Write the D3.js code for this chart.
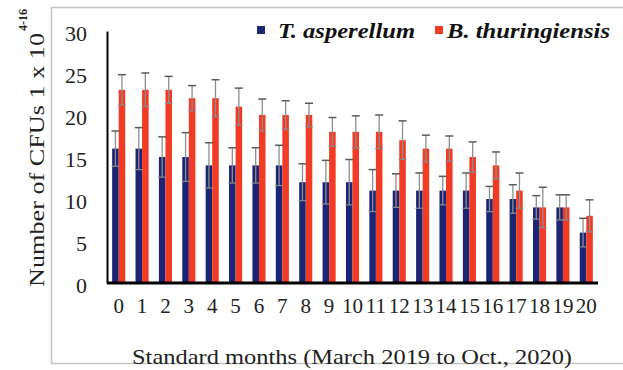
<!DOCTYPE html>
<html>
<head>
<meta charset="utf-8">
<script src="https://cdn.jsdelivr.net/npm/d3@7"></script>
<style>
  body { margin: 0; background: #fff; }
  svg text { font-family: "Liberation Serif", "DejaVu Serif", serif !important; }
</style>
</head>
<body>
<div id="chart"></div>
<script>
// standard months 0..20
let months = d3.range(0, 21).map(String);
let seriesNames = ["T. asperellum", "B. thuringiensis"];
let asperellum = [16, 16, 15, 15, 14, 14, 14, 14, 12, 12, 12, 11, 11, 11, 11, 11, 10, 10, 9, 9, 6];
let asperellumErr = [2.1, 2.5, 2.4, 2.9, 2.7, 2.1, 2.1, 2.4, 2.2, 2.6, 2.7, 2.5, 2.0, 2.1, 1.7, 2.1, 1.5, 1.7, 1.4, 1.5, 1.7];
let thuringiensis = [23, 23, 23, 22, 22, 21, 20, 20, 20, 18, 18, 18, 17, 16, 16, 15, 14, 11, 9, 9, 8];
let thuringiensisErr = [1.8, 2.0, 1.6, 1.5, 2.2, 2.2, 1.9, 1.7, 1.4, 1.7, 1.9, 2.0, 2.3, 1.6, 1.5, 1.8, 1.6, 2.1, 2.4, 1.5, 1.9];
let yTicks = [0, 5, 10, 15, 20, 25, 30];
let colors = ["#1c2573", "#f23b24"];

let width = 623,
    height = 370;

let svg = d3.select("#chart")
    .append("svg")
    .attr("width", width)
    .attr("height", height);

// outer frame
svg.append("rect")
    .attr("x", 51.5)
    .attr("y", 7.5)
    .attr("width", 580)
    .attr("height", 356)
    .attr("fill", "none")
    .attr("stroke", "#c4c4c4")
    .attr("stroke-width", 1.5);

let x0 = d3.scaleBand()
    .domain(months)
    .range([107, 598])
    .paddingInner(0.44)
    .paddingOuter(0.22);

let x1 = d3.scaleBand()
    .domain([0, 1])
    .range([0, x0.bandwidth()]);

let y = d3.scaleLinear()
    .domain([0, 30])
    .range([283, 31]);

let data = months.map((m, i) => ({
    month: m,
    vals: [
        {s: 0, v: asperellum[i], e: asperellumErr[i]},
        {s: 1, v: thuringiensis[i], e: thuringiensisErr[i]}
    ]
}));

let groups = svg.selectAll(".grp")
    .data(data)
    .enter().append("g")
    .attr("class", "grp")
    .attr("transform", d => "translate(" + x0(d.month) + ",0)");

groups.selectAll("rect")
    .data(d => d.vals)
    .enter().append("rect")
    .attr("x", d => x1(d.s))
    .attr("y", d => y(d.v))
    .attr("width", x1.bandwidth())
    .attr("height", d => y(0) - y(d.v))
    .attr("fill", d => colors[d.s]);

// error bars
let err = groups.selectAll(".err")
    .data(d => d.vals)
    .enter().append("g")
    .attr("class", "err")
    .attr("transform", d => "translate(" + (x1(d.s) + x1.bandwidth() / 2) + ",0)");

err.append("line")
    .attr("y1", d => y(d.v - d.e))
    .attr("y2", d => y(d.v + d.e))
    .attr("stroke", "#8e8e8e")
    .attr("stroke-width", 1.3);

err.append("line")
    .attr("x1", -4).attr("x2", 4)
    .attr("y1", d => y(d.v + d.e))
    .attr("y2", d => y(d.v + d.e))
    .attr("stroke", "#5a5a5a")
    .attr("stroke-width", 1.5);

err.append("line")
    .attr("x1", -4).attr("x2", 4)
    .attr("y1", d => y(d.v - d.e))
    .attr("y2", d => y(d.v - d.e))
    .attr("stroke", "#8a8a8a")
    .attr("stroke-width", 1.2);

// y axis
let yAxis = svg.append("g")
    .attr("transform", "translate(107,0)")
    .call(d3.axisLeft(y).tickValues(yTicks).tickSize(0).tickPadding(20));
yAxis.attr("font-family", null);
yAxis.select(".domain").attr("stroke", "#000").attr("stroke-width", 2);
yAxis.selectAll("text")
    .attr("font-size", 22)
    .attr("fill", "#222")
    .attr("dy", "0.45em");

// x axis
let xAxis = svg.append("g")
    .attr("transform", "translate(0,283)")
    .call(d3.axisBottom(x0).tickSize(0).tickPadding(12));
xAxis.attr("font-family", null);
xAxis.select(".domain")
    .attr("d", "M107,0H598")
    .attr("stroke", "#000")
    .attr("stroke-width", 3);
xAxis.selectAll("text")
    .attr("font-size", 21)
    .attr("fill", "#222")
    .attr("dy", "0.85em");

// axis titles
svg.append("text")
    .attr("x", 352)
    .attr("y", 364)
    .attr("text-anchor", "middle")
    .attr("font-size", 22)
    .attr("fill", "#222")
    .attr("textLength", 440)
    .attr("lengthAdjust", "spacingAndGlyphs")
    .text("Standard months (March 2019 to Oct., 2020)");

svg.append("text")
    .attr("transform", "translate(44,287) rotate(-90)")
    .attr("text-anchor", "start")
    .attr("font-size", 22)
    .attr("fill", "#222")
    .attr("textLength", 254)
    .attr("lengthAdjust", "spacingAndGlyphs")
    .text("Number of CFUs 1 x 10");

svg.append("text")
    .attr("transform", "translate(27,31) rotate(-90)")
    .attr("text-anchor", "start")
    .attr("font-size", 12)
    .attr("font-weight", "bold")
    .attr("fill", "#222")
    .text("4-16");

// legend
let legendX = [257, 435];
let legendW = [137, 163];
let legend = svg.selectAll(".leg")
    .data(seriesNames)
    .enter().append("g")
    .attr("class", "leg")
    .attr("transform", (d, i) => "translate(" + legendX[i] + ",26)");

legend.append("rect")
    .attr("width", 8)
    .attr("height", 8)
    .attr("fill", (d, i) => colors[i]);

legend.append("text")
    .attr("x", (d, i) => i ? 12 : 21)
    .attr("y", 12)
    .attr("font-size", 21)
    .attr("font-weight", "bold")
    .attr("font-style", "italic")
    .attr("fill", "#111")
    .attr("textLength", (d, i) => legendW[i])
    .attr("lengthAdjust", "spacingAndGlyphs")
    .text(d => d);
</script>
</body>
</html>
